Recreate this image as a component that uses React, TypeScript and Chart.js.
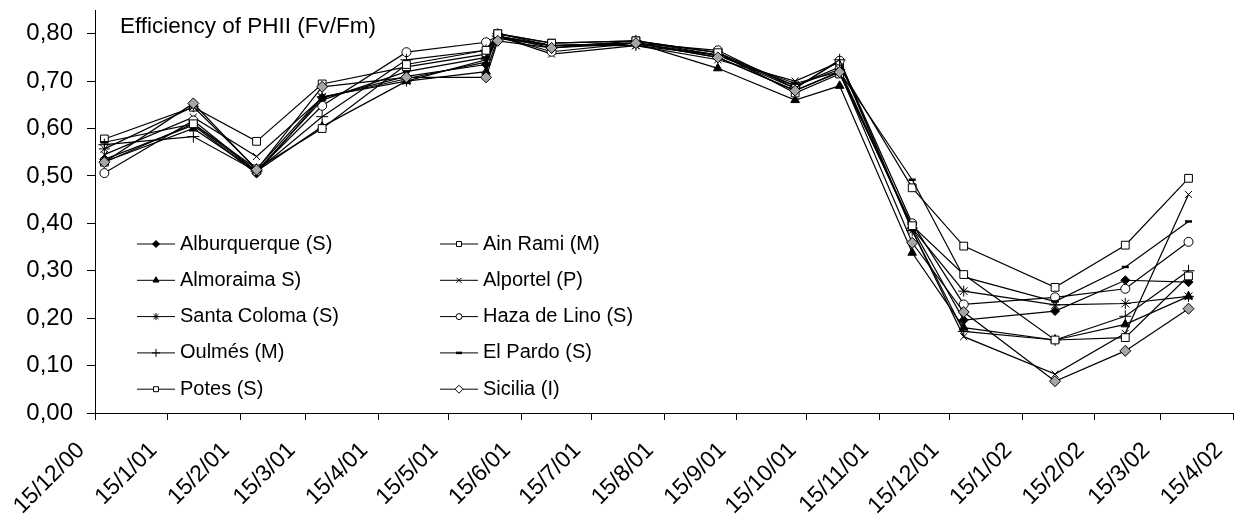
import React, { useEffect, useRef } from 'react';
import { Chart, registerables } from 'chart.js';
import { drawPoint } from 'chart.js/helpers';

Chart.register(...registerables);

// ---------- data ----------
const AXIS_START = '2000-12-15';
const AXIS_END = '2002-04-15';

const SAMPLE_DATES = [
  '2000-12-19', '2001-01-26', '2001-02-22', '2001-03-22', '2001-04-27', '2001-05-31',
  '2001-06-05', '2001-06-28', '2001-08-03', '2001-09-07', '2001-10-10', '2001-10-29',
  '2001-11-29', '2001-12-21', '2002-01-29', '2002-02-28', '2002-03-27',
];

const TICK_DATES = [
  '2000-12-15', '2001-01-15', '2001-02-15', '2001-03-15', '2001-04-15', '2001-05-15',
  '2001-06-15', '2001-07-15', '2001-08-15', '2001-09-15', '2001-10-15', '2001-11-15',
  '2001-12-15', '2002-01-15', '2002-02-15', '2002-03-15', '2002-04-15',
];

const TICK_LABELS = [
  '15/12/00', '15/1/01', '15/2/01', '15/3/01', '15/4/01', '15/5/01', '15/6/01', '15/7/01',
  '15/8/01', '15/9/01', '15/10/01', '15/11/01', '15/12/01', '15/1/02', '15/2/02', '15/3/02', '15/4/02',
];

const Y_TICKS = [0, 0.1, 0.2, 0.3, 0.4, 0.5, 0.6, 0.7, 0.8];
const Y_MAX = 0.85;

const SERIES_NAMES = [
  'Alburquerque (S)', 'Ain Rami (M)', 'Almoraima S)', 'Alportel (P)', 'Santa Coloma (S)',
  'Haza de Lino (S)', 'Oulmés (M)', 'El Pardo (S)', 'Potes (S)', 'Sicilia (I)',
];

const ALBURQUERQUE = [0.535, 0.607, 0.505, 0.665, 0.71, 0.735, 0.795, 0.775, 0.78, 0.75, 0.68, 0.72, 0.39, 0.196, 0.215, 0.28, 0.276];
const AIN_RAMI = [0.578, 0.645, 0.573, 0.694, 0.73, 0.757, 0.8, 0.78, 0.785, 0.76, 0.69, 0.73, 0.475, 0.352, 0.265, 0.354, 0.495];
const ALMORAIMA = [0.53, 0.6, 0.51, 0.604, 0.7, 0.72, 0.79, 0.775, 0.78, 0.727, 0.66, 0.69, 0.338, 0.18, 0.154, 0.187, 0.246];
const ALPORTEL = [0.545, 0.624, 0.541, 0.665, 0.705, 0.74, 0.795, 0.757, 0.775, 0.745, 0.7, 0.74, 0.385, 0.161, 0.082, 0.168, 0.461];
const SANTA_COLOMA = [0.557, 0.646, 0.515, 0.667, 0.7, 0.745, 0.8, 0.775, 0.775, 0.755, 0.69, 0.725, 0.39, 0.257, 0.228, 0.231, 0.246];
const HAZA_DE_LINO = [0.506, 0.617, 0.51, 0.648, 0.761, 0.782, 0.795, 0.762, 0.78, 0.765, 0.685, 0.743, 0.4, 0.229, 0.244, 0.262, 0.361];
const OULMES = [0.566, 0.583, 0.51, 0.625, 0.745, 0.765, 0.795, 0.77, 0.785, 0.755, 0.685, 0.745, 0.385, 0.172, 0.154, 0.204, 0.3];
const EL_PARDO = [0.571, 0.61, 0.51, 0.66, 0.72, 0.75, 0.795, 0.775, 0.78, 0.755, 0.695, 0.72, 0.492, 0.287, 0.235, 0.308, 0.404];
const POTES = [0.529, 0.61, 0.515, 0.6, 0.735, 0.765, 0.8, 0.78, 0.785, 0.76, 0.675, 0.715, 0.395, 0.292, 0.154, 0.159, 0.289];
const SICILIA = [0.529, 0.653, 0.513, 0.688, 0.708, 0.708, 0.785, 0.77, 0.78, 0.75, 0.68, 0.719, 0.359, 0.213, 0.067, 0.131, 0.22];

const SERIES_VALUES = [
  ALBURQUERQUE, AIN_RAMI, ALMORAIMA, ALPORTEL, SANTA_COLOMA,
  HAZA_DE_LINO, OULMES, EL_PARDO, POTES, SICILIA,
];

const TITLE = 'Efficiency of PHII (Fv/Fm)';

// ---------- styles ----------
const FONT = "'Liberation Sans', Arial, sans-serif";
const MARKERS = [
  { pointStyle: 'rectRot', radius: 4.5, bg: '#000000', legendRadius: 3.5, legendBg: '#000000', bw: 1 },
  { pointStyle: 'rect', radius: 5.5, bg: '#ffffff', legendRadius: 3.5, legendBg: '#ffffff', bw: 1 },
  { pointStyle: 'triangle', radius: 5, bg: '#000000', legendRadius: 3.5, legendBg: '#000000', bw: 1 },
  { pointStyle: 'crossRot', radius: 5, bg: '#000000', legendRadius: 3.5, legendBg: '#000000', bw: 1 },
  { pointStyle: 'star', radius: 5.5, bg: '#000000', legendRadius: 3.5, legendBg: '#000000', bw: 1 },
  { pointStyle: 'circle', radius: 4.5, bg: '#ffffff', legendRadius: 3, legendBg: '#ffffff', bw: 1 },
  { pointStyle: 'cross', radius: 6, bg: '#000000', legendRadius: 4, legendBg: '#000000', bw: 1 },
  { pointStyle: 'line', radius: 3.5, bg: '#000000', legendRadius: 3, legendBg: '#000000', bw: 2.5 },
  { pointStyle: 'rect', radius: 5.5, bg: '#ffffff', legendRadius: 3.5, legendBg: '#ffffff', bw: 1 },
  { pointStyle: 'rectRot', radius: 5.5, bg: '#a6a6a6', legendRadius: 4, legendBg: '#ffffff', bw: 1 },
];

const DAY_MS = 86400000;
const toDay = (iso: string) => (Date.parse(iso + 'T00:00:00Z') - Date.parse(AXIS_START + 'T00:00:00Z')) / DAY_MS;

const overlayPlugin = {
  id: 'overlay',
  afterDraw(chart: any) {
    const ctx = chart.ctx;
    ctx.save();
    // title inside plot area
    ctx.fillStyle = '#000';
    ctx.font = `22.5px ${FONT}`;
    ctx.textAlign = 'left';
    ctx.textBaseline = 'alphabetic';
    ctx.fillText(TITLE, 120, 33);

    // legend, two columns inside plot area
    const colX = [137, 440];
    const lineLen = 38;
    const gap = 5;
    const row0 = 244;
    const rowGap = 36.3;
    ctx.font = `20px ${FONT}`;
    ctx.textBaseline = 'middle';
    SERIES_NAMES.forEach((name, i) => {
      const col = i % 2;
      const row = Math.floor(i / 2);
      const x = colX[col];
      const y = row0 + row * rowGap;
      ctx.strokeStyle = '#000';
      ctx.lineWidth = 1;
      ctx.beginPath();
      ctx.moveTo(x, y);
      ctx.lineTo(x + lineLen, y);
      ctx.stroke();
      const m = MARKERS[i];
      ctx.fillStyle = m.legendBg;
      ctx.strokeStyle = '#000';
      ctx.lineWidth = m.bw;
      drawPoint(ctx, { pointStyle: m.pointStyle, radius: m.legendRadius, rotation: 0, borderWidth: m.bw }, x + lineLen / 2, y);
      ctx.fillStyle = '#000';
      ctx.fillText(name, x + lineLen + gap, y);
    });
    ctx.restore();
  },
};

export default function App() {
  const canvasRef = useRef<HTMLCanvasElement | null>(null);

  useEffect(() => {
    const canvas = canvasRef.current;
    if (!canvas) return;
    const sampleDays = SAMPLE_DATES.map(toDay);
    const tickDays = TICK_DATES.map(toDay);

    const datasets = SERIES_NAMES.map((name, i) => {
      const m = MARKERS[i];
      return {
        label: name,
        data: SERIES_VALUES[i].map((v, j) => ({ x: sampleDays[j], y: v })),
        borderColor: '#000000',
        borderWidth: 1.2,
        backgroundColor: m.bg,
        pointStyle: m.pointStyle,
        pointRadius: m.radius,
        pointBackgroundColor: m.bg,
        pointBorderColor: '#000000',
        pointBorderWidth: m.bw,
        tension: 0,
        fill: false,
        order: SERIES_NAMES.length - 1 - i,
      };
    });

    const chart = new Chart(canvas, {
      type: 'line',
      data: { datasets },
      plugins: [overlayPlugin],
      options: {
        animation: false,
        responsive: false,
        devicePixelRatio: 1,
        layout: { padding: { top: 10, right: 1, left: 0, bottom: 0 } },
        plugins: {
          legend: { display: false },
          tooltip: { enabled: false },
          title: { display: false },
        },
        scales: {
          x: {
            type: 'linear',
            min: toDay(AXIS_START),
            max: toDay(AXIS_END),
            afterBuildTicks: (scale: any) => {
              scale.ticks = tickDays.map((v) => ({ value: v }));
            },
            afterFit: (scale: any) => {
              scale.height = 107;
              scale.paddingLeft = 0;
              scale.paddingRight = 0;
            },
            grid: { drawOnChartArea: false, drawTicks: true, tickLength: 7, color: '#000', lineWidth: 1 },
            border: { display: true, color: '#000', width: 1 },
            ticks: {
              autoSkip: false,
              minRotation: 45,
              maxRotation: 45,
              padding: 17,
              labelOffset: -14,
              color: '#000',
              font: { family: FONT, size: 23 },
              callback: (_v: any, idx: number) => TICK_LABELS[idx],
            },
          },
          y: {
            type: 'linear',
            min: 0,
            max: Y_MAX,
            afterBuildTicks: (scale: any) => {
              scale.ticks = Y_TICKS.map((v) => ({ value: v }));
            },
            afterFit: (scale: any) => {
              scale.width = 95;
              scale.paddingTop = 0;
              scale.paddingBottom = 0;
            },
            grid: { drawOnChartArea: false, drawTicks: true, tickLength: 8, color: '#000', lineWidth: 1 },
            border: { display: true, color: '#000', width: 1 },
            ticks: {
              padding: 14,
              color: '#000',
              font: { family: FONT, size: 24 },
              callback: (v: any) => Number(v).toFixed(2).replace('.', ','),
            },
          },
        },
      },
    } as any);

    return () => chart.destroy();
  }, []);

  return (
    <div style={{ position: 'fixed', left: 0, top: 0, width: 1240, height: 520, background: '#fff' }}>
      <canvas ref={canvasRef} width={1240} height={520} style={{ display: 'block', width: 1240, height: 520 }} />
    </div>
  );
}
